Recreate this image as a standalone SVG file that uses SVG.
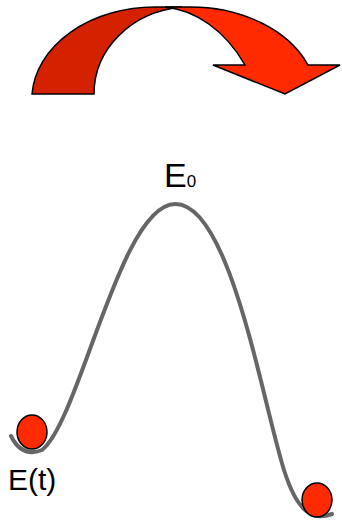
<svg xmlns="http://www.w3.org/2000/svg" width="342" height="523" viewBox="0 0 342 523">
<style>
.arrow{stroke:#000;stroke-width:1.5;stroke-linejoin:miter}
.ball{fill:#ff2a00;stroke:#000;stroke-width:1.5}
.lbl{font-family:"Liberation Sans",Arial,sans-serif;fill:#000}
.curve{fill:none;stroke:#666;stroke-width:4;stroke-linecap:round}
</style>
<rect width="342" height="523" fill="#fff"/>
<g id="arrow">
<path class="arrow" fill="#d42200" d="M32,94 A123,93 0 0 1 155,7 L182,7 C130,12 94,50 94,94 Z"/>
<path class="arrow" fill="#ff2a00" d="M165,7 L190,7 A127,93 0 0 1 308,65 L340,65 L285,94 L213,65 L245,65 C225,30 195,10 165,7 Z"/>
</g>
<g id="connectors">
<path class="curve" d="M11,436 Q22,458 42,450 C80,420 120,205 175,204 C230,203 262,400 284,470 C296,508 310,522 332,514"/>
</g>
<g id="ball-left"><ellipse class="ball" cx="32" cy="432" rx="15" ry="17"/></g>
<g id="ball-right"><ellipse class="ball" cx="317" cy="500" rx="15" ry="17"/></g>
<g id="label-e0"><text class="lbl" x="164" y="187" font-size="34">E<tspan font-size="17">0</tspan></text></g>
<g id="label-et"><text class="lbl" x="8" y="490" font-size="30">E(t)</text></g>
</svg>
